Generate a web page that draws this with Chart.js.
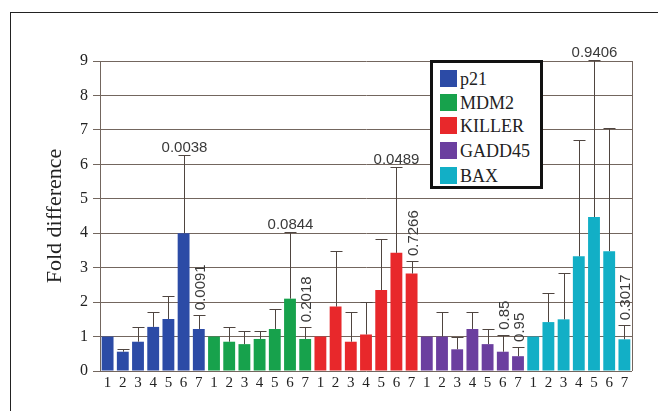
<!DOCTYPE html>
<html>
<head>
<meta charset="utf-8">
<script src="https://cdn.jsdelivr.net/npm/chart.js@4.4.1/dist/chart.umd.min.js"></script>
<style>
  html, body { margin: 0; padding: 0; background: #fff; }
  #wrap { position: relative; width: 658px; height: 411px; overflow: hidden; }
  #frame { position: absolute; left: 10px; top: 12px; width: 700px; height: 500px;
           border-left: 1.5px solid #222; border-top: 1.5px solid #222; }
  #foldChart { position: absolute; left: 0; top: 0; }
  #legendBox { position: absolute; left: 430px; top: 60px; width: 107px; height: 123px;
               border: 3px solid #111; background: #fff; color: #222; }
  .lg-row { position: absolute; left: 7px; height: 18px; line-height: 18px; white-space: nowrap;
            font-family: "Liberation Serif", "DejaVu Serif", serif; font-size: 18px; }
  .lg-sw { display: inline-block; width: 17px; height: 17px; vertical-align: top; margin-right: 3px; }
</style>
</head>
<body>
<div id="wrap">
  <div id="frame"></div>
  <canvas id="foldChart" width="658" height="411"></canvas>
  <div id="legendBox"></div>
</div>
<script>
//---------------------------------------------- DATA ---------------------------------------------------
const genes = ["p21", "MDM2", "KILLER", "GADD45", "BAX"];
const timepoints = ["1", "2", "3", "4", "5", "6", "7"];
const geneColors = ["#2c4ba6", "#17a24c", "#e8282b", "#6b3f9f", "#12afc6"];

// mean fold difference per time point
const p21Vals    = [1.0, 0.56, 0.85, 1.28, 1.51, 4.0, 1.22];
const mdm2Vals   = [1.0, 0.85, 0.78, 0.93, 1.22, 2.1, 0.93];
const killerVals = [1.0, 1.87, 0.85, 1.06, 2.35, 3.43, 2.83];
const gadd45Vals = [1.0, 1.0, 0.63, 1.22, 0.78, 0.56, 0.43];
const baxVals    = [1.0, 1.42, 1.5, 3.33, 4.47, 3.48, 0.92];

// upper error (SD)
const p21Err    = [0, 0.07, 0.42, 0.44, 0.66, 2.26, 0.40];
const mdm2Err   = [0, 0.42, 0.37, 0.22, 0.58, 1.94, 0.34];
const killerErr = [0, 1.62, 0.85, 0.94, 1.49, 2.49, 0.36];
const gadd45Err = [0, 0.71, 0.37, 0.49, 0.44, 0.49, 0.27];
const baxErr    = [0, 0.85, 1.35, 3.37, 4.57, 3.57, 0.41];

// p-values written over bars (h = horizontal, v = vertical)
const p21P    = [null, null, null, null, null, ["0.0038", "h"], ["0.0091", "v"]];
const mdm2P   = [null, null, null, null, null, ["0.0844", "h"], ["0.2018", "v"]];
const killerP = [null, null, null, null, null, ["0.0489", "h"], ["0.7266", "v"]];
const gadd45P = [null, null, null, null, null, ["0.85", "v"], ["0.95", "v"]];
const baxP    = [null, null, null, null, ["0.9406", "h"], null, ["0.3017", "v"]];

const yTicks = [0, 1, 2, 3, 4, 5, 6, 7, 8, 9];

const allVals = [p21Vals, mdm2Vals, killerVals, gadd45Vals, baxVals];
const allErr = [p21Err, mdm2Err, killerErr, gadd45Err, baxErr];
const allP = [p21P, mdm2P, killerP, gadd45P, baxP];

//---------------------------------------------- BUILD ---------------------------------------------------
const labels = [];
genes.forEach(() => timepoints.forEach((t) => labels.push(t)));

const datasets = genes.map((g, gi) => {
  const data = labels.map(() => null);
  allVals[gi].forEach((v, i) => (data[gi * timepoints.length + i] = v));
  return {
    label: g,
    data: data,
    backgroundColor: geneColors[gi],
    borderWidth: 0,
    grouped: false,
    barPercentage: 0.78,
    categoryPercentage: 1.0,
  };
});

// legend (html)
const legendBox = document.getElementById("legendBox");
const rowTops = [7, 31, 54, 79, 104];
genes.forEach((g, gi) => {
  const row = document.createElement("div");
  row.className = "lg-row";
  row.style.top = rowTops[gi] + "px";
  const sw = document.createElement("span");
  sw.className = "lg-sw";
  sw.style.background = geneColors[gi];
  row.appendChild(sw);
  row.appendChild(document.createTextNode(g));
  legendBox.appendChild(row);
});

const gridColor = "#73665e";

const errorBarPlugin = {
  id: "errorBars",
  afterDatasetsDraw(chart) {
    const ctx = chart.ctx;
    const y = chart.scales.y;
    const area = chart.chartArea;
    ctx.save();
    // right frame line of plot
    ctx.strokeStyle = gridColor;
    ctx.lineWidth = 1;
    ctx.beginPath();
    ctx.moveTo(Math.round(area.right) + 0.5, area.top);
    ctx.lineTo(Math.round(area.right) + 0.5, area.bottom);
    ctx.stroke();

    genes.forEach((g, gi) => {
      const meta = chart.getDatasetMeta(gi);
      allVals[gi].forEach((v, i) => {
        const bar = meta.data[gi * timepoints.length + i];
        if (!bar) return;
        const x = Math.round(bar.x) + 0.5;
        const top = y.getPixelForValue(v);
        const capY = y.getPixelForValue(v + allErr[gi][i]);
        if (allErr[gi][i] > 0) {
          ctx.strokeStyle = "#4f4540";
          ctx.lineWidth = 1;
          ctx.beginPath();
          ctx.moveTo(x, top);
          ctx.lineTo(x, Math.round(capY) + 0.5);
          ctx.moveTo(x - 6, Math.round(capY) + 0.5);
          ctx.lineTo(x + 6, Math.round(capY) + 0.5);
          ctx.stroke();
        }
        const p = allP[gi][i];
        if (p) {
          ctx.fillStyle = "#3a3a3a";
          ctx.font = "15px 'Liberation Sans', sans-serif";
          if (p[1] === "h") {
            ctx.textAlign = "center";
            ctx.textBaseline = "alphabetic";
            ctx.fillText(p[0], x, capY - 3);
          } else {
            ctx.save();
            ctx.translate(x, capY - 5);
            ctx.rotate(-Math.PI / 2);
            ctx.textAlign = "left";
            ctx.textBaseline = "middle";
            ctx.fillText(p[0], 0, 1);
            ctx.restore();
          }
        }
      });
    });
    ctx.restore();
  },
};

const config = {
  type: "bar",
  data: { labels: labels, datasets: datasets },
  options: {
    responsive: false,
    animation: false,
    layout: { padding: { left: 38, right: 26, top: 61, bottom: 0 } },
    plugins: {
      legend: { display: false },
      tooltip: { enabled: false },
    },
    scales: {
      x: {
        grid: { display: false, drawTicks: false },
        border: { display: false },
        ticks: {
          autoSkip: false,
          maxRotation: 0,
          padding: 3,
          color: "#222",
          font: { family: "'Liberation Serif', serif", size: 15 },
        },
        afterFit(scale) {
          scale.height = 40;
        },
      },
      y: {
        min: 0,
        max: 9,
        afterBuildTicks(scale) {
          scale.ticks = yTicks.map((v) => ({ value: v }));
        },
        grid: { color: gridColor, lineWidth: 1, tickLength: 7 },
        border: { display: true, color: gridColor, width: 1 },
        ticks: {
          padding: 5,
          color: "#222",
          font: { family: "'Liberation Serif', serif", size: 16 },
        },
        title: {
          display: true,
          text: "Fold difference",
          color: "#222",
          font: { family: "'Liberation Serif', serif", size: 22 },
        },
        afterFit(scale) {
          scale.width = 62;
        },
      },
    },
  },
  plugins: [errorBarPlugin],
};

const foldChart = new Chart(document.getElementById("foldChart"), config);
</script>
</body>
</html>
